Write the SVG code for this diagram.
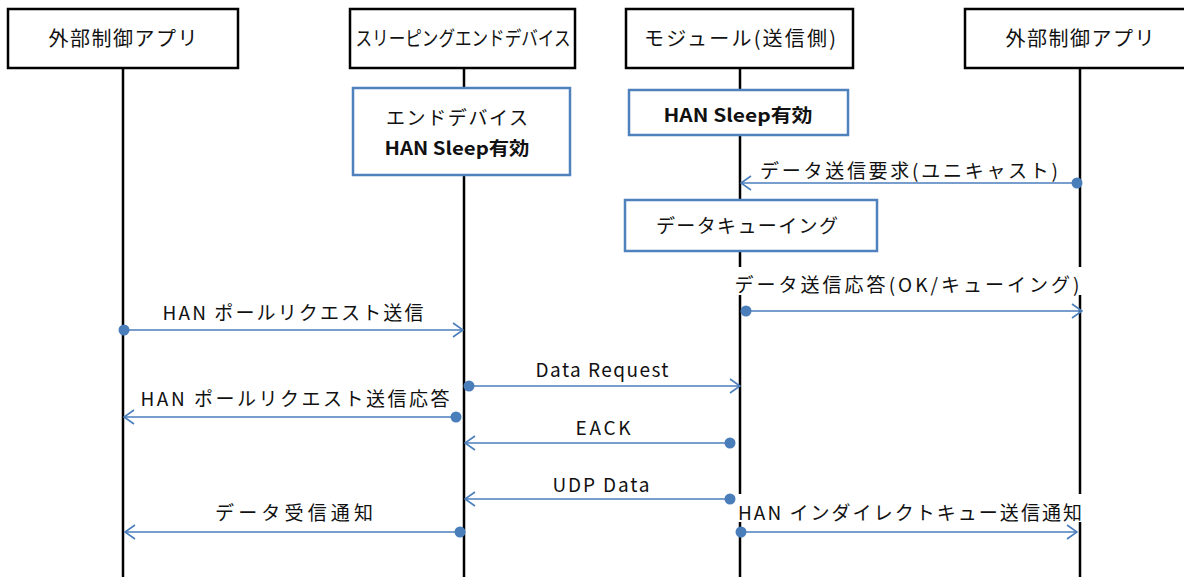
<svg xmlns="http://www.w3.org/2000/svg" width="1184" height="577" viewBox="0 0 1184 577">
<style>
.hdr{fill:#fff;stroke:#000;stroke-width:2.5}
.life{stroke:#000;stroke-width:2.5}
.note{fill:#fff;stroke:#4F81BD;stroke-width:2.5}
.t{font-family:"Noto Sans CJK JP","DejaVu Sans",sans-serif;fill:#111;text-anchor:middle}
.h{font-size:20px}
.m{font-size:19px}
.b{font-weight:bold;font-size:18px}
.msg{stroke:#4A7EBB;stroke-width:1.6;fill:none}
.dot{fill:#4A7EBB}
.bg{fill:#fff}
</style>
<defs>
<marker id="open" viewBox="0 0 12 16" refX="11" refY="8" markerWidth="12" markerHeight="16" markerUnits="userSpaceOnUse" orient="auto">
<path d="M1,1 L11,8 L1,15" fill="none" stroke="#4A7EBB" stroke-width="1.6"/>
</marker>
</defs>
<rect width="1184" height="577" fill="#fff"/>
<g id="lifelines">
<line class="life" x1="123" y1="68" x2="123" y2="577"/>
<line class="life" x1="464" y1="68" x2="464" y2="577"/>
<line class="life" x1="740" y1="68" x2="740" y2="577"/>
<line class="life" x1="1080" y1="68" x2="1080" y2="577"/>
</g>
<g id="app1"><rect class="hdr" x="8" y="9" width="230" height="59"/><text class="t h" x="123" y="46" textLength="149" lengthAdjust="spacing">外部制御アプリ</text></g>
<g id="sed"><rect class="hdr" x="350" y="9" width="225" height="59"/><text class="t h" x="463" y="46" textLength="215" lengthAdjust="spacingAndGlyphs">スリーピングエンドデバイス</text></g>
<g id="module"><rect class="hdr" x="626" y="9" width="227" height="59"/><text class="t h" x="740" y="46" textLength="192" lengthAdjust="spacing">モジュール(送信側)</text></g>
<g id="app2"><rect class="hdr" x="965" y="9" width="230" height="59"/><text class="t h" x="1080" y="46" textLength="149" lengthAdjust="spacing">外部制御アプリ</text></g>
<g id="note-sed"><rect class="note" x="353" y="88" width="217" height="87"/><text class="t m" x="457" y="125" textLength="142" lengthAdjust="spacing">エンドデバイス</text><text class="t b" x="457" y="155" textLength="145" lengthAdjust="spacingAndGlyphs">HAN Sleep有効</text></g>
<g id="note-module"><rect class="note" x="629" y="90" width="219" height="45"/><text class="t b" x="738" y="122" textLength="149" lengthAdjust="spacingAndGlyphs">HAN Sleep有効</text></g>
<g id="note-queue"><rect class="note" x="625" y="200" width="252" height="51"/><text class="t m" x="747" y="233" textLength="182" lengthAdjust="spacing">データキューイング</text></g>
<g id="connectors">
<line class="msg" x1="1077" y1="183" x2="741" y2="183" marker-end="url(#open)"/><circle class="dot" cx="1077" cy="183" r="5.5"/>
<text class="t m" x="909" y="178" textLength="298" lengthAdjust="spacing">データ送信要求(ユニキャスト)</text>
<rect class="bg" x="733" y="267" width="350" height="28"/>
<text class="t m" x="907" y="292" textLength="345" lengthAdjust="spacing">データ送信応答(OK/キューイング)</text>
<line class="msg" x1="746" y1="311" x2="1082" y2="311" marker-end="url(#open)"/><circle class="dot" cx="746" cy="311" r="5.5"/>
<text class="t m" x="293" y="320" textLength="261" lengthAdjust="spacing">HAN ポールリクエスト送信</text>
<line class="msg" x1="124" y1="330" x2="463" y2="330" marker-end="url(#open)"/><circle class="dot" cx="124" cy="330" r="5.5"/>
<text class="t m" x="602" y="377" textLength="133" lengthAdjust="spacing">Data Request</text>
<line class="msg" x1="469" y1="386" x2="740" y2="386" marker-end="url(#open)"/><circle class="dot" cx="469" cy="386" r="5.5"/>
<text class="t m" x="295" y="406" textLength="309" lengthAdjust="spacing">HAN ポールリクエスト送信応答</text>
<line class="msg" x1="456" y1="417" x2="124" y2="417" marker-end="url(#open)"/><circle class="dot" cx="456" cy="417" r="5.5"/>
<text class="t m" x="603" y="435" textLength="55" lengthAdjust="spacing">EACK</text>
<line class="msg" x1="730" y1="443" x2="465" y2="443" marker-end="url(#open)"/><circle class="dot" cx="730" cy="443" r="5.5"/>
<text class="t m" x="601" y="492" textLength="97" lengthAdjust="spacing">UDP Data</text>
<line class="msg" x1="730" y1="499" x2="465" y2="499" marker-end="url(#open)"/><circle class="dot" cx="730" cy="499" r="5.5"/>
<text class="t m" x="294" y="520" textLength="158" lengthAdjust="spacing">データ受信通知</text>
<line class="msg" x1="460" y1="532" x2="125" y2="532" marker-end="url(#open)"/><circle class="dot" cx="460" cy="532" r="5.5"/>
<rect class="bg" x="736" y="494" width="348" height="28"/>
<text class="t m" x="910" y="520" textLength="344" lengthAdjust="spacing">HAN インダイレクトキュー送信通知</text>
<line class="msg" x1="741" y1="532" x2="1077" y2="532" marker-end="url(#open)"/><circle class="dot" cx="741" cy="532" r="5.5"/>
</g>
</svg>
